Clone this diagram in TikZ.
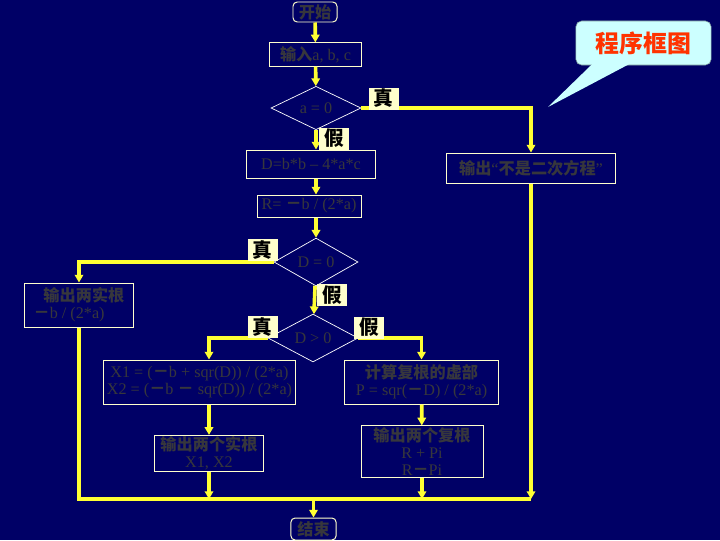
\documentclass[tikz,border=0pt]{standalone}
\usepackage{fontspec}
\setmainfont{Liberation Serif}
\newfontfamily\cjk{Noto Sans CJK SC}
\usepackage{tikz}
\usetikzlibrary{positioning,shapes.geometric,arrows.meta}
\definecolor{bgblue}{RGB}{0,0,102}
\definecolor{cream}{RGB}{255,255,204}
\definecolor{flowyellow}{RGB}{255,255,51}
\definecolor{txtgray}{RGB}{55,55,60}
\definecolor{callout}{RGB}{204,255,255}
\definecolor{calloutred}{RGB}{255,51,0}
\newcommand{\zh}[1]{{\cjk\bfseries #1}}
\tikzset{
    box/.style = {
       shape=rectangle,
       draw=cream, line width=0.7pt,
       align=center,
       text=txtgray,
       font=\fontsize{11.5}{12}\selectfont,
       inner sep=1pt
    },
    term/.style = {
       box, rounded corners=3pt
    },
    cond/.style = {
       shape=diamond,
       draw=white, line width=0.5pt,
       text=txtgray,
       font=\fontsize{11.5}{12}\selectfont,
       inner sep=0pt
    },
    lbl/.style = {
       shape=rectangle,
       fill=cream, text=black,
       font=\cjk\bfseries\fontsize{14}{14}\selectfont,
       minimum width=.75cm, minimum height=.55cm,
       inner sep=0pt
    },
    flow/.style = {draw=flowyellow, line width=2.6pt, -{Triangle[length=5.5pt,width=6pt]}},
    line/.style = {draw=flowyellow, line width=2.6pt}
}
\begin{document}
\begin{tikzpicture}[x=0.025cm,y=-0.025cm]
   \fill[bgblue] (0,0) rectangle (720,540);
   \useasboundingbox (0,0) rectangle (720,540);
   % boxes
   \node[term, minimum width=1.1cm, minimum height=.5cm] (start) at (315,12) {\zh{开始}};
   \node[box, minimum width=2.28cm, minimum height=.58cm] (input) at (315.5,54.5) {\zh{输入}a, b, c};
   \node[cond, minimum width=2.25cm, minimum height=1cm] (a0) at (316,108) {a = 0};
   \node[box, minimum width=3.2cm, minimum height=.7cm] (dbox) at (311,164) {D=b*b -- 4*a*c};
   \node[box, minimum width=4.2cm, minimum height=.75cm] (noq) at (531,168) {\zh{输出}“\zh{不是二次方程}”};
   \node[box, minimum width=2.6cm, minimum height=.55cm] (rbox) at (309,206) {R= \zh{－}b / (2*a)};
   \node[cond, minimum width=2.1cm, minimum height=1.03cm] (d0) at (316,262) {D = 0};
   \node[box, minimum width=2.7cm, minimum height=1.1cm, align=left] (real1) at (79,305)
      {\hspace*{7pt}\zh{输出两实根}\\\zh{－}b / (2*a)};
   \node[cond, minimum width=2.25cm, minimum height=1.08cm] (dp) at (313,338) {D > 0};
   \node[box, minimum width=4.78cm, minimum height=1.1cm] (xbox) at (199.5,382)
      {X1 = (\zh{－}b + sqr(D)) / (2*a)\\X2 = (\zh{－}b \zh{－} sqr(D)) / (2*a)};
   \node[box, minimum width=2.7cm, minimum height=.83cm] (out2) at (209,453.5) {\zh{输出两个实根}\\X1, X2};
   \node[box, minimum width=3.83cm, minimum height=1.1cm] (cpx1) at (421.5,382)
      {\zh{计算复根的虚部}\\P = sqr(\zh{－}D) / (2*a)};
   \node[box, minimum width=3.05cm, minimum height=1.28cm] (cpx2) at (422,451.5)
      {\zh{输出两个复根}\\R + Pi\\R\zh{－}Pi};
   \node[term, minimum width=1.13cm, minimum height=.55cm] (end) at (313.5,529) {\zh{结束}};
   \coordinate (jr) at (531,499);
   % connectors
   \draw[flow] (start) -- (input);
   \draw[flow] (input) -- (a0);
   \draw[flow] (a0.east) -| (noq.north);
   \draw[flow] (a0) -- (a0 |- dbox.north);
   \draw[flow] (a0 |- dbox.south) -- (a0 |- rbox.north);
   \draw[flow] (a0 |- rbox.south) -- (d0.north);
   \draw[flow] (d0.west) -| (real1.north);
   \draw[flow] (d0) -- (dp);
   \draw[flow] (dp.west) -| (out2 |- xbox.north);
   \draw[flow] (dp.east) -| (cpx1.north);
   \draw[flow] (out2 |- xbox.south) -- (out2.north);
   \draw[flow] (cpx1) -- (cpx2);
   \draw[line] (real1.south) |- (jr);
   \draw[flow] (out2) -- (out2 |- jr);
   \draw[flow] (cpx2) -- (cpx2 |- jr);
   \draw[flow] (noq) -- (noq |- jr);
   \draw[flow] (end |- jr) -- (end);
   % labels
   \node[lbl] (t1) at (383.5,98.5) {真};
   \node[lbl] (f1) at (334,138.5) {假};
   \node[lbl] (t2) at (262.5,250) {真};
   \node[lbl] (f2) at (332,295) {假};
   \node[lbl] (t3) at (262.5,327) {真};
   \node[lbl] (f3) at (369,327.5) {假};
   % callout
   \node[shape=rectangle, rounded corners=4pt, fill=callout, draw=callout!60!black, line width=0.4pt,
      text=calloutred, font=\cjk\bfseries\fontsize{17}{17}\selectfont,
      minimum width=3.38cm, minimum height=1.1cm] (title) at (643.5,43) {程序框图};
   \coordinate (tip) at (548,107);
   \fill[callout] ([xshift=.42cm,yshift=1pt]title.south west) -- (tip) -- ([xshift=1.35cm,yshift=1pt]title.south west) -- cycle;
\end{tikzpicture}
\end{document}
